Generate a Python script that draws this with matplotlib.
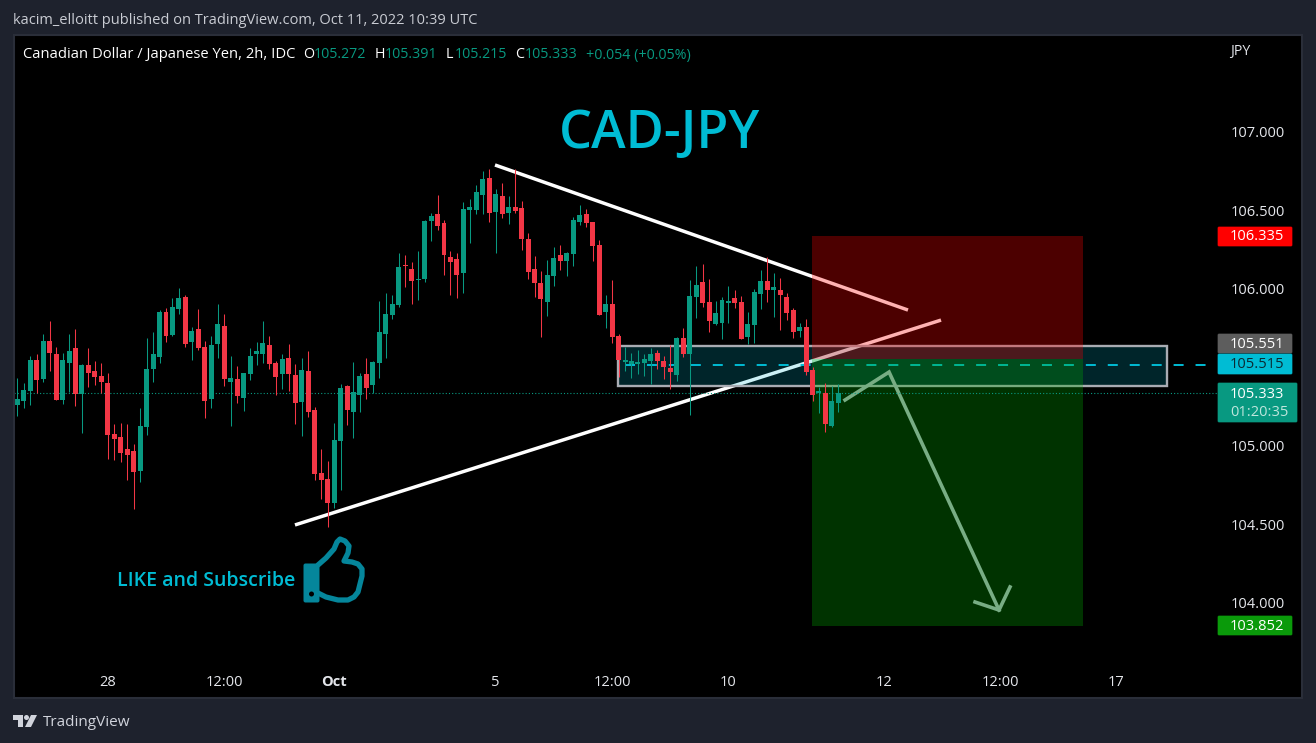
import matplotlib
matplotlib.use("Agg")
import matplotlib.pyplot as plt
from matplotlib.patches import Rectangle, FancyBboxPatch, Polygon, Circle

plt.rcParams['lines.scale_dashes'] = False
plt.rcParams['font.family'] = ['Open Sans', 'DejaVu Sans']

opens = [105.258,105.283,105.347,105.544,105.423,105.665,105.583,105.290,105.525,105.621,
105.328,105.513,105.474,105.443,105.398,105.073,105.054,104.978,104.965,104.838,
105.118,105.487,105.564,105.850,105.704,105.869,105.946,105.659,105.742,105.627,
105.296,105.646,105.761,105.404,105.423,105.302,105.455,105.583,105.583,105.640,
105.525,105.455,105.557,105.449,105.277,105.474,105.226,104.825,104.787,104.634,
105.029,105.379,105.213,105.322,105.455,105.385,105.525,105.710,105.831,105.895,
106.150,106.124,106.054,106.060,106.430,106.474,106.417,106.201,106.188,106.099,
106.500,106.500,106.595,106.704,106.487,106.589,106.481,106.519,106.513,106.315,
106.124,106.035,105.914,106.080,106.213,106.175,106.220,106.423,106.474,106.423,
106.277,105.850,105.901,105.698,105.532,105.519,105.519,105.526,105.538,105.589,
105.538,105.494,105.449,105.685,105.583,105.946,106.042,105.914,105.774,105.780,
105.908,105.940,105.914,105.691,105.768,105.965,106.048,105.991,105.991,105.946,
105.863,105.729,105.755,105.481,105.335,105.335,105.124,105.272]
highs = [105.430,105.398,105.570,105.583,105.710,105.793,105.627,105.589,105.710,105.742,
105.519,105.621,105.538,105.525,105.462,105.137,105.143,105.137,105.012,105.239,
105.685,105.723,105.863,105.876,105.939,106.003,105.958,105.755,105.869,105.665,
105.697,105.901,105.837,105.570,105.506,105.462,105.621,105.659,105.793,105.697,
105.538,105.583,105.646,105.519,105.557,105.602,105.245,104.978,104.901,105.143,
105.392,105.385,105.532,105.462,105.557,105.538,105.920,105.971,105.958,106.226,
106.213,106.169,106.239,106.436,106.481,106.595,106.436,106.239,106.226,106.551,
106.570,106.659,106.748,106.761,106.634,106.672,106.589,106.761,106.557,106.353,
106.207,106.111,106.181,106.264,106.277,106.232,106.455,106.532,106.506,106.423,
106.309,105.958,106.054,105.710,105.628,105.589,105.608,105.583,105.621,105.608,
105.570,105.640,105.691,105.749,106.054,106.143,106.156,106.061,105.920,105.946,
106.016,105.991,105.952,105.850,105.997,106.118,106.201,106.099,106.067,105.971,
105.876,105.780,105.806,105.500,105.373,105.398,105.379,105.391]
lows = [105.188,105.239,105.258,105.334,105.404,105.474,105.290,105.264,105.341,105.252,
105.080,105.373,105.385,105.334,104.914,104.908,104.895,104.780,104.596,104.767,
105.067,105.404,105.525,105.659,105.697,105.837,105.627,105.544,105.608,105.175,
105.239,105.557,105.379,105.124,105.271,105.220,105.417,105.513,105.525,105.487,
105.322,105.360,105.347,105.137,105.060,105.181,104.780,104.659,104.481,104.602,
104.717,105.130,105.048,105.213,105.296,105.334,105.430,105.557,105.806,105.882,
106.009,105.901,105.927,106.041,106.302,106.372,106.086,105.958,105.939,105.971,
106.290,106.474,106.474,106.423,106.226,106.449,106.411,106.481,106.245,106.060,
105.946,105.691,105.825,106.016,106.118,106.080,106.143,106.404,106.392,106.175,
105.831,105.748,105.653,105.436,105.475,105.430,105.456,105.443,105.392,105.487,
105.424,105.360,105.411,105.564,105.194,105.812,105.882,105.723,105.768,105.678,
105.780,105.876,105.678,105.647,105.653,105.870,105.914,105.819,105.736,105.799,
105.685,105.691,105.449,105.284,105.207,105.086,105.118,105.215]
closes = [105.296,105.353,105.544,105.417,105.665,105.589,105.290,105.544,105.602,105.328,
105.513,105.462,105.436,105.404,105.067,105.041,104.952,104.939,104.831,105.124,
105.487,105.583,105.850,105.697,105.882,105.939,105.646,105.729,105.621,105.283,
105.640,105.774,105.423,105.430,105.315,105.462,105.570,105.602,105.653,105.519,
105.436,105.551,105.455,105.271,105.481,105.213,104.818,104.780,104.634,105.035,
105.366,105.226,105.341,105.443,105.366,105.532,105.723,105.837,105.901,106.137,
106.143,106.048,106.060,106.430,106.462,106.398,106.213,106.169,106.086,106.506,
106.519,106.615,106.697,106.481,106.602,106.474,106.519,106.493,106.315,106.105,
106.035,105.933,106.086,106.194,106.175,106.226,106.436,106.468,106.417,106.271,
105.831,105.901,105.691,105.545,105.545,105.538,105.532,105.551,105.583,105.538,
105.500,105.468,105.685,105.583,105.952,106.022,105.908,105.793,105.844,105.927,
105.920,105.908,105.678,105.774,105.978,106.048,105.991,106.010,105.959,105.844,
105.723,105.755,105.468,105.322,105.347,105.137,105.284,105.333]

x_ticks = [14, 32, 49, 74, 92, 110, 134, 152, 170]
x_labels = ['28', '12:00', 'Oct', '5', '12:00', '10', '12', '12:00', '17']
y_ticks = [104.0, 104.5, 105.0, 106.0, 106.5, 107.0]

last_price = 105.333
level_price = 105.515
entry_price = 105.551
stop_price = 106.335
target_price = 103.852
position_x = [122.92, 164.84]
zone_x = [92.85, 177.9]
zone_y = [105.376, 105.634]
level_x = [94, 184]
upper_x, upper_y = [73.89, 137.77], [106.787, 105.863]
lower_x, lower_y = [42.95, 142.88], [104.494, 105.799]
arrow_x = [128.03, 134.84, 151.85]
arrow_y = [105.290, 105.468, 103.952]
head_x = [148.14, 151.85, 153.55]
head_y = [104.003, 103.952, 104.099]

UP, DOWN = '#089981', '#f23645'
PANE = '#1e222d'
W, H = 1316, 743

fig = plt.figure(figsize=(W / 100, H / 100), dpi=100, facecolor=PANE)

bg = fig.add_axes([0, 0, 1, 1], zorder=0)
bg.set_xlim(0, W); bg.set_ylim(H, 0); bg.axis('off')
bg.add_patch(Rectangle((14, 35), 1288, 663, fc='black', ec='none'))

ax = fig.add_axes([14 / W, (H - 662) / H, (1218 - 14) / W, (662 - 35) / H], zorder=1)
ax.set_facecolor('black')
ax.set_xlim(-0.51, 185.72)
ax.set_ylim(103.621, 107.615)
for s in ax.spines.values():
    s.set_visible(False)

ax.yaxis.tick_right()
ax.set_yticks(y_ticks, [f'{v:.3f}' for v in y_ticks])
ax.set_xticks(x_ticks, x_labels)
ax.tick_params(axis='y', length=0, pad=9.2, labelsize=10.5, labelcolor='#e4e6eb')
ax.tick_params(axis='x', length=0, pad=9, labelsize=10.5, labelcolor='#e4e6eb')
ax.get_xticklabels()[2].set_fontweight('bold')

# drawings beneath the position tool
ax.plot(upper_x, upper_y, color='white', lw=2.5, zorder=1, solid_capstyle='butt')
ax.plot(lower_x, lower_y, color='white', lw=2.5, zorder=1, solid_capstyle='butt')
ax.add_patch(Rectangle((zone_x[0], zone_y[0]), zone_x[1] - zone_x[0], zone_y[1] - zone_y[0],
                       fc=(0, 188 / 255, 212 / 255, 0.2), ec='#a9acb3', lw=1.7, zorder=1.5))
ax.plot(level_x, [level_price] * 2, color='#00bcd4', lw=1.4, dashes=(7.2, 8.6), zorder=1.6)

# position tool
ax.add_patch(Rectangle((position_x[0], entry_price), position_x[1] - position_x[0],
                       stop_price - entry_price, fc=(1, 0, 0, 0.3), ec='none', zorder=2))
ax.add_patch(Rectangle((position_x[0], target_price), position_x[1] - position_x[0],
                       entry_price - target_price, fc=(0, 170 / 255, 0, 0.3), ec='none', zorder=2))

ax.plot(arrow_x, arrow_y, color='#78ad84', lw=2.6, zorder=2.5, solid_joinstyle='miter')
ax.plot(head_x, head_y, color='#78ad84', lw=2.6, zorder=2.5, solid_joinstyle='miter')

ax.plot([-0.51, 185.72], [last_price] * 2, color=UP, lw=0.8, dashes=(0.8, 1.5), zorder=2.7)

# candles
idx = list(range(len(opens)))
colors = [UP if c >= o else DOWN for o, c in zip(opens, closes)]
ax.vlines(idx, lows, highs, colors=colors, lw=0.75, zorder=3)
ax.bar(idx, [max(abs(c - o), 0.006) for o, c in zip(opens, closes)],
       bottom=[min(o, c) for o, c in zip(opens, closes)],
       width=0.77, color=colors, lw=0, zorder=3.1)

# chrome overlay
ov = fig.add_axes([0, 0, 1, 1], zorder=5)
ov.set_xlim(0, W); ov.set_ylim(H, 0); ov.axis('off'); ov.patch.set_alpha(0)
ov.add_patch(Rectangle((14, 35), 1288, 663, fc='none', ec='#2a2e39', lw=1.5))

ov.text(13, 20.5, 'kacim_elloitt published on TradingView.com, Oct 11, 2022 10:39 UTC',
        color='#c9ccd3', fontsize=10.55, va='center')
ov.text(23, 55, 'Canadian Dollar / Japanese Yen, 2h, IDC', color='white', fontsize=10.65, va='center')
for x, t, c in [(303, 'O', 'white'), (314, '105.272', UP), (375, 'H', 'white'), (385, '105.391', UP),
                (446, 'L', 'white'), (455, '105.215', UP), (515, 'C', 'white'), (525, '105.333', UP),
                (586, '+0.054 (+0.05%)', UP)]:
    ov.text(x, 55, t, color=c, fontsize=10.3, va='center')
ov.text(1230, 52, 'JPY', color='#e4e6eb', fontsize=10.2, va='center')

ov.text(660, 134, 'CAD-JPY', color='#00bcd4', fontsize=37.5, fontweight='semibold', ha='center', va='center')
ov.text(117, 581.5, 'LIKE and Subscribe', color='#00bcd4', fontsize=14, fontweight='semibold', va='center')

# thumb icon
TEAL = '#05869b'
ov.add_patch(FancyBboxPatch((305, 565), 13, 36, boxstyle='round,pad=1.5,rounding_size=2', fc=TEAL, ec='none'))
ov.add_patch(Circle((311.5, 594), 2.5, fc='black', ec='none'))
thumb_x = [318, 326, 334, 337, 340, 345, 349, 348, 344, 352, 358, 362, 362, 360, 358, 354, 348, 338, 326, 318]
thumb_y = [565, 558, 549, 542, 539, 541, 546, 553, 561, 562, 564, 569, 576, 584, 592, 597, 600, 600, 597, 593]
ov.plot(thumb_x, thumb_y, color=TEAL, lw=3.8, solid_joinstyle='round', solid_capstyle='round')

# price tags
def tag(y0, y1, fc, text, tc, x1=1292):
    ov.add_patch(FancyBboxPatch((1218, y0 + 1), x1 - 1218, y1 - y0 - 2,
                                boxstyle='round,pad=0,rounding_size=1', fc=fc, ec=fc, lw=0.5))
    ov.text(1284, (y0 + y1) / 2 + 0.5, text, color=tc, fontsize=10.5, va='center', ha='right')

tag(226, 247, '#ff0000', '106.335', 'white')
tag(333, 354, '#5d5d5d', '105.551', 'white')
tag(353, 375, '#00bcd4', '105.515', '#0b2a33')
tag(615, 636, '#0a9a0a', '103.852', 'white')
ov.add_patch(FancyBboxPatch((1218, 383), 79, 39, boxstyle='round,pad=0,rounding_size=1', fc=UP, ec=UP, lw=0.5))
ov.text(1284, 394.5, '105.333', color='white', fontsize=10.5, va='center', ha='right')
ov.text(1289, 412, '01:20:35', color='#bfe6dd', fontsize=10.5, va='center', ha='right')

# footer logo
LOGO = '#d1d4dc'
ov.add_patch(Polygon([(13, 715), (23, 715), (23, 727), (18, 727), (18, 720), (13, 720)], fc=LOGO, ec='none'))
ov.add_patch(Circle((26.5, 717.5), 2.5, fc=LOGO, ec='none'))
ov.add_patch(Polygon([(31, 715), (37, 715), (31, 727), (25, 727)], fc=LOGO, ec='none'))
ov.text(43, 722, 'TradingView', color=LOGO, fontsize=11, va='center')

fig.savefig('out.png', dpi=100, facecolor=PANE)
